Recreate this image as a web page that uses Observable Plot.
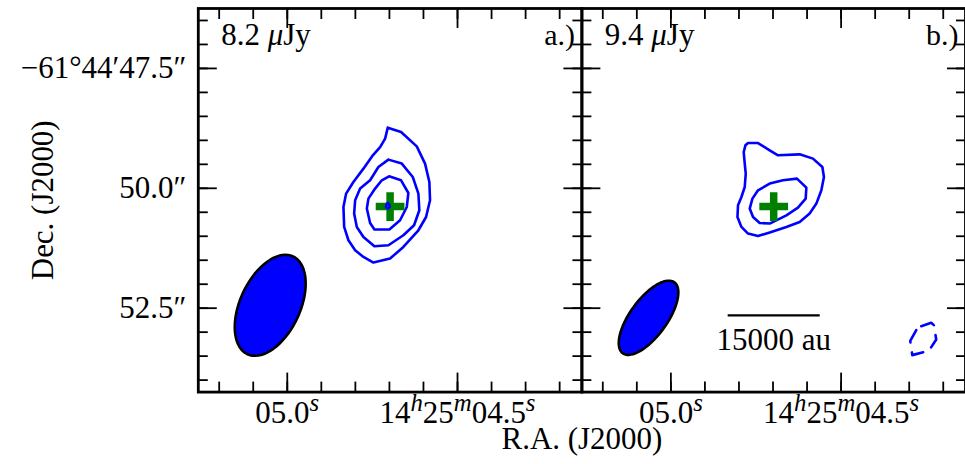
<!DOCTYPE html>
<html>
<head>
<meta charset="utf-8">
<script src="https://cdn.jsdelivr.net/npm/d3@7"></script>
<script src="https://cdn.jsdelivr.net/npm/@observablehq/plot@0.6"></script>
<style>
  html, body { margin: 0; padding: 0; background: #fff; overflow: hidden; }
  svg text { font-family: 'Liberation Serif', 'Times New Roman', serif; }
</style>
</head>
<body>
<div id="chart"></div>
<script>
// Field centre (J2000): RA 14h25m04.698s, Dec −61°44′50.25″
const raCentre = 4.698;   // seconds past 14h25m
const decCentre = 50.25;  // arcsec past −61°44′ (larger = further south)
const fieldSize = 8;      // arcsec on a side
const cosDec = Math.cos((61 + 44 / 60 + decCentre / 3600) * Math.PI / 180);
const raPerArcsec = 1 / (15 * cosDec); // seconds of RA per arcsec

// Axis ticks and labels
const raMinor = [5.2, 5.1, 5.0, 4.9, 4.8, 4.7, 4.6, 4.5, 4.4, 4.3, 4.2];
const raMajor = [5.0, 4.5];
const raLabels = ["05.0^s", "14^h25^m04.5^s"];
const decMinor = [46.5, 47.0, 47.5, 48.0, 48.5, 49.0, 49.5, 50.0, 50.5, 51.0, 51.5, 52.0, 52.5, 53.0, 53.5, 54.0];
const decMajor = [47.5, 50.0, 52.5];
const decLabels = ["−61°44′47.5″", "50.0″", "52.5″"];

// Panels
const panels = ["a", "b"];
const panelTags = ["a.)", "b.)"];
const panelRms = ["8.2 μJy", "9.4 μJy"];

// Contours, offsets from the field centre in arcsec: [east, north]
const contourA1 = [[0.048, 1.515], [-0.229, 1.423], [-0.556, 1.125], [-0.729, 0.765], [-0.819, 0.381], [-0.833, 0.0], [-0.75, -0.348], [-0.590, -0.625], [-0.277, -0.973], [0.0, -1.215], [0.348, -1.298], [0.556, -1.181], [0.729, -1.042], [0.869, -0.833], [0.958, -0.556], [0.973, -0.140], [0.917, 0.140], [0.765, 0.381], [0.556, 0.660], [0.360, 0.938], [0.208, 1.110], [0.104, 1.285]];
const contourA2 = [[0.035, 0.848], [-0.244, 0.765], [-0.473, 0.485], [-0.590, 0.140], [-0.610, -0.208], [-0.5, -0.521], [-0.277, -0.729], [0.035, -0.938], [0.327, -0.958], [0.556, -0.765], [0.694, -0.556], [0.75, -0.277], [0.729, 0.0], [0.625, 0.244], [0.417, 0.417], [0.244, 0.694]];
const contourA3 = [[0.021, 0.5], [-0.229, 0.417], [-0.381, 0.152], [-0.348, -0.140], [-0.208, -0.417], [0.015, -0.610], [0.327, -0.610], [0.417, -0.473], [0.485, -0.173], [0.452, 0.035], [0.3125, 0.244], [0.173, 0.417]];
const contourA4 = [[0.048, -0.052], [0.015, -0.094], [0.010, -0.146], [0.048, -0.173], [0.083, -0.146], [0.079, -0.094]];
const contourB1 = [[0.535, 1.194], [0.327, 1.194], [0.083, 1.042], [-0.090, 0.938], [-0.542, 0.958], [-0.819, 0.869], [-1.015, 0.694], [-1.048, 0.485], [-0.994, 0.208], [-0.890, -0.069], [-0.75, -0.277], [-0.542, -0.452], [-0.265, -0.556], [0.083, -0.673], [0.327, -0.744], [0.535, -0.694], [0.673, -0.556], [0.756, -0.348], [0.744, -0.104], [0.673, 0.069], [0.604, 0.277], [0.583, 0.556], [0.604, 0.765], [0.625, 1.006], [0.590, 1.146]];
const contourB2 = [[0.083, 0.348], [-0.194, 0.417], [-0.485, 0.452], [-0.681, 0.265], [-0.667, 0.035], [-0.506, -0.152], [-0.265, -0.313], [0.083, -0.485], [0.292, -0.473], [0.431, -0.348], [0.5, -0.173], [0.444, 0.035], [0.327, 0.208]];
const contourBNeg = [[-3.077, -2.625], [-3.285, -2.556], [-3.340, -2.604], [-3.390, -2.902], [-3.235, -3.140], [-2.890, -3.229], [-2.848, -2.931], [-2.973, -2.708]];

// Source position (offset east, north in arcsec)
const sourceEast = 0.0;
const sourceNorth = -0.13;

// Synthesised beams (FWHM in arcsec, PA in degrees east of north, centre offsets)
const beamMajor = [2.25, 1.83];
const beamMinor = [1.25, 0.77];
const beamPA = [155, 144];
const beamEast = [2.5, 2.61];
const beamNorth = [-2.19, -2.45];

// Scale bar in panel b
const scaleBarAu = 15000;
const scaleBarArcsec = 1.92;
const scaleBarEast = 0.0;
const scaleBarNorth = -2.40;

const toRA = e => raCentre + e * raPerArcsec;
const toDec = n => decCentre - n;

// Closed contour polylines
const contourRows = [];
function addContour(panel, id, pts) {
  [...pts, pts[0]].forEach(([e, n]) => contourRows.push({panel, id, ra: toRA(e), dec: toDec(n)}));
}
addContour("a", "a1", contourA1);
addContour("a", "a2", contourA2);
addContour("a", "a3", contourA3);
addContour("a", "a4", contourA4);
addContour("b", "b1", contourB1);
addContour("b", "b2", contourB2);
const negativeRows = [];
[...contourBNeg, contourBNeg[0]].forEach(([e, n]) => negativeRows.push({panel: "b", ra: toRA(e), dec: toDec(n)}));

// Beam outlines traced from their ellipse parameters
const beamRows = [];
panels.forEach((panel, k) => {
  const a = beamMajor[k] / 2, b = beamMinor[k] / 2, pa = beamPA[k] * Math.PI / 180;
  for (let j = 0; j <= 72; ++j) {
    const t = (j / 72) * 2 * Math.PI;
    const e = beamEast[k] + a * Math.cos(t) * Math.sin(pa) + b * Math.sin(t) * Math.cos(pa);
    const n = beamNorth[k] + a * Math.cos(t) * Math.cos(pa) - b * Math.sin(t) * Math.sin(pa);
    beamRows.push({panel, ra: toRA(e), dec: toDec(n)});
  }
});

const sources = panels.map(panel => ({panel, ra: toRA(sourceEast), dec: toDec(sourceNorth)}));
const scaleBar = [{
  panel: "b",
  ra1: toRA(scaleBarEast + scaleBarArcsec / 2),
  ra2: toRA(scaleBarEast - scaleBarArcsec / 2),
  dec: toDec(scaleBarNorth),
  ra: toRA(scaleBarEast),
  label: `${scaleBarAu} au`
}];

const font = "'Liberation Serif', 'Times New Roman', serif";
const tickStyle = {fill: "none", strokeWidth: 1.8, label: null};

const chart = Plot.plot({
  width: 966,
  height: 464,
  marginLeft: 198,
  marginRight: 0,
  marginTop: 8,
  marginBottom: 72,
  style: {fontFamily: font, background: "white", color: "black"},
  x: {domain: [raCentre + fieldSize / 2 * raPerArcsec, raCentre - fieldSize / 2 * raPerArcsec]},
  y: {domain: [decCentre + fieldSize / 2, decCentre - fieldSize / 2]},
  fx: {domain: panels, padding: 0, axis: null},
  marks: [
    // beams
    Plot.line(beamRows, {x: "ra", y: "dec", fx: "panel", z: "panel", fill: "#0000ff", stroke: "black", strokeWidth: 2.6}),
    // contours
    Plot.line(contourRows, {x: "ra", y: "dec", fx: "panel", z: "id", stroke: "#0000ff", strokeWidth: 2.6, strokeLinejoin: "round"}),
    Plot.line(negativeRows, {x: "ra", y: "dec", fx: "panel", stroke: "#0000ff", strokeWidth: 2.6, strokeDasharray: "14,10"}),
    // source position
    Plot.dot(sources, {x: "ra", y: "dec", fx: "panel", symbol: "plus", r: 9.3, stroke: "#008000", strokeWidth: 7.5, strokeLinecap: "butt"}),
    // peak contour drawn on top of the marker
    Plot.line(contourRows.filter(d => d.id === "a4"), {x: "ra", y: "dec", fx: "panel", stroke: "#0000ff", strokeWidth: 2.6}),
    // scale bar
    Plot.link(scaleBar, {x1: "ra1", x2: "ra2", y1: "dec", y2: "dec", fx: "panel", stroke: "black", strokeWidth: 2.4}),
    Plot.text(scaleBar, {x: "ra", y: "dec", fx: "panel", text: "label", dy: 25, fontSize: 31, fontFamily: font, lineAnchor: "middle"}),
    // panel annotations
    Plot.text(panels, {fx: d => d, text: (d, i) => panelRms[i], frameAnchor: "top-left", dx: 23, dy: 27, textAnchor: "start", lineAnchor: "middle", fontSize: 31, fontFamily: font}),
    Plot.text(panels, {fx: d => d, text: (d, i) => panelTags[i], frameAnchor: "top-right", dx: -7, dy: 27, textAnchor: "end", lineAnchor: "middle", fontSize: 30, fontFamily: font}),
    // inward ticks on all four sides
    Plot.axisX(raMinor, {anchor: "bottom", tickSize: -10, ...tickStyle}),
    Plot.axisX(raMajor, {anchor: "bottom", tickSize: -19, ...tickStyle}),
    Plot.axisX(raMinor, {anchor: "top", tickSize: -10, ...tickStyle}),
    Plot.axisX(raMajor, {anchor: "top", tickSize: -19, ...tickStyle}),
    Plot.axisY(decMinor, {anchor: "left", tickSize: -10, facetAnchor: null, ...tickStyle}),
    Plot.axisY(decMajor, {anchor: "left", tickSize: -19, facetAnchor: null, ...tickStyle}),
    Plot.axisY(decMinor, {anchor: "right", tickSize: -10, facetAnchor: null, ...tickStyle}),
    Plot.axisY(decMajor, {anchor: "right", tickSize: -19, facetAnchor: null, ...tickStyle}),
    // tick labels
    Plot.axisX(raMajor, {anchor: "bottom", tickSize: 0, tickPadding: 9, fontSize: 31, fontFamily: font, fontVariant: "normal", label: null,
      tickFormat: d => raLabels[raMajor.indexOf(d)]}),
    Plot.axisY(decMajor, {anchor: "left", tickSize: 0, tickPadding: 12, fontSize: 31, fontFamily: font, fontVariant: "normal", label: null,
      tickFormat: d => decLabels[decMajor.indexOf(d)]}),
    Plot.frame({stroke: "black", strokeWidth: 2.8}),
    // axis titles
    Plot.text(["R.A. (J2000)"], {facet: "super", frameAnchor: "bottom", dy: 47, lineAnchor: "middle", fontSize: 31, fontFamily: font}),
    Plot.text(["Dec. (J2000)"], {facet: "super", frameAnchor: "left", dx: -155, rotate: -90, lineAnchor: "middle", textAnchor: "middle", fontSize: 31, fontFamily: font})
  ]
});

document.getElementById("chart").append(chart);

// Typeset superscript units (^x) and the italic μ as tspans
d3.select(chart).selectAll("text").each(function () {
  const node = this;
  const s = node.textContent;
  if (!/[\^μ]/.test(s)) return;
  const size = parseFloat(getComputedStyle(node).fontSize) || 30;
  const parts = s.split(/(\^.|μ)/).filter(p => p !== "");
  node.textContent = "";
  let raised = false;
  parts.forEach(p => {
    const t = d3.select(node).append("tspan");
    if (p.startsWith("^")) {
      t.text(p.slice(1)).attr("font-style", "italic").attr("font-size", size * 0.8);
      if (!raised) t.attr("dy", -size * 0.4);
      raised = true;
    } else {
      if (raised) t.attr("dy", size * 0.4);
      raised = false;
      t.text(p);
      if (p === "μ") t.attr("font-style", "italic");
    }
  });
});
</script>
</body>
</html>
